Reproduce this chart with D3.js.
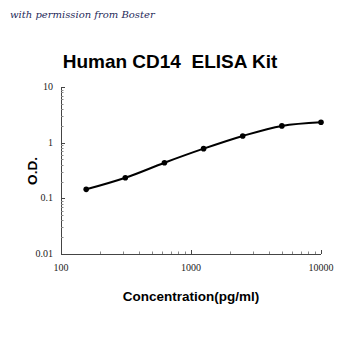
<!DOCTYPE html>
<html>
<head>
<meta charset="utf-8">
<script src="https://cdn.jsdelivr.net/npm/d3@7"></script>
<style>
  body { margin: 0; background: #fff; }
</style>
</head>
<body>
<div id="chart"></div>
<script>
// standard curve values
const concentrations = [156.25, 312.5, 625, 1250, 2500, 5000, 10000];
const odValues = [0.145, 0.234, 0.436, 0.78, 1.32, 2.0, 2.33];
const xTicks = [100, 1000, 10000];
const yTicks = [0.01, 0.1, 1, 10];

const width = 350, height = 350;
const margin = {top: 87, right: 29, bottom: 96, left: 61};

const svg = d3.select('#chart').append('svg')
    .attr('width', width)
    .attr('height', height);

const x = d3.scaleLog()
    .domain([100, 10000])
    .range([margin.left, width - margin.right]);

const y = d3.scaleLog()
    .domain([0.01, 10])
    .range([height - margin.bottom, margin.top]);

// watermark
svg.append('text')
    .attr('x', 10)
    .attr('y', 18)
    .attr('font-family', 'DejaVu Serif')
    .attr('font-style', 'italic')
    .attr('font-size', 10)
    .attr('fill', '#1f2a5a')
    .text('with permission from Boster');

// title
svg.append('text')
    .attr('x', 170)
    .attr('y', 68)
    .attr('text-anchor', 'middle')
    .attr('font-family', 'Liberation Sans')
    .attr('font-weight', 'bold')
    .attr('font-size', 19)
    .style('white-space', 'pre')
    .text('Human CD14  ELISA Kit');

// minor tick values for each decade
function minors(lo, hi) {
    let out = [];
    for (let d = lo; d < hi; d *= 10) {
        for (let k = 2; k <= 9; k++) out.push(d * k);
    }
    return out;
}

const axes = svg.append('g').attr('stroke', '#444').attr('stroke-width', 1);

// axis lines
axes.append('line')
    .attr('x1', x(100)).attr('x2', x(10000))
    .attr('y1', y(0.01) + 0.5).attr('y2', y(0.01) + 0.5);
axes.append('line')
    .attr('x1', x(100) + 0.5).attr('x2', x(100) + 0.5)
    .attr('y1', y(0.01)).attr('y2', y(10));

// y ticks point inward
axes.selectAll('.ymaj').data(yTicks).enter().append('line')
    .attr('x1', x(100)).attr('x2', x(100) + 4)
    .attr('y1', d => Math.round(y(d)) + 0.5).attr('y2', d => Math.round(y(d)) + 0.5);
axes.selectAll('.ymin').data(minors(0.01, 10)).enter().append('line')
    .attr('x1', x(100)).attr('x2', x(100) + 2.5)
    .attr('stroke', '#888')
    .attr('y1', d => Math.round(y(d)) + 0.5).attr('y2', d => Math.round(y(d)) + 0.5);

// x ticks point inward
axes.selectAll('.xmaj').data(xTicks).enter().append('line')
    .attr('x1', d => Math.round(x(d)) + 0.5).attr('x2', d => Math.round(x(d)) + 0.5)
    .attr('y1', y(0.01)).attr('y2', y(0.01) - 4);
axes.selectAll('.xmin').data(minors(100, 10000)).enter().append('line')
    .attr('x1', d => Math.round(x(d)) + 0.5).attr('x2', d => Math.round(x(d)) + 0.5)
    .attr('stroke', '#888')
    .attr('y1', y(0.01)).attr('y2', y(0.01) - 2.5);

// tick labels
svg.selectAll('.ylab').data(yTicks).enter().append('text')
    .attr('x', x(100) - 8)
    .attr('y', d => y(d) + 3)
    .attr('text-anchor', 'end')
    .attr('font-family', 'Liberation Serif')
    .attr('font-size', 10)
    .attr('fill', '#222')
    .text(d => d);

svg.selectAll('.xlab').data(xTicks).enter().append('text')
    .attr('x', d => x(d))
    .attr('y', y(0.01) + 17)
    .attr('text-anchor', 'middle')
    .attr('font-family', 'Liberation Serif')
    .attr('font-size', 10)
    .attr('fill', '#222')
    .text(d => d);

// axis titles
svg.append('text')
    .attr('x', 191)
    .attr('y', 301)
    .attr('text-anchor', 'middle')
    .attr('font-family', 'Liberation Sans')
    .attr('font-weight', 'bold')
    .attr('font-size', 13.5)
    .text('Concentration(pg/ml)');

svg.append('text')
    .attr('transform', 'translate(37,171) rotate(-90)')
    .attr('text-anchor', 'middle')
    .attr('font-family', 'Liberation Sans')
    .attr('font-weight', 'bold')
    .attr('font-size', 13.5)
    .text('O.D.');

// curve
const pts = concentrations.map((c, i) => [c, odValues[i]]);
const line = d3.line()
    .x(d => x(d[0]))
    .y(d => y(d[1]))
    .curve(d3.curveMonotoneX);

svg.append('path')
    .datum(pts)
    .attr('fill', 'none')
    .attr('stroke', '#000')
    .attr('stroke-width', 2)
    .attr('d', line);

svg.selectAll('.pt').data(pts).enter().append('circle')
    .attr('cx', d => x(d[0]))
    .attr('cy', d => y(d[1]))
    .attr('r', 2.8)
    .attr('fill', '#000');
</script>
</body>
</html>
